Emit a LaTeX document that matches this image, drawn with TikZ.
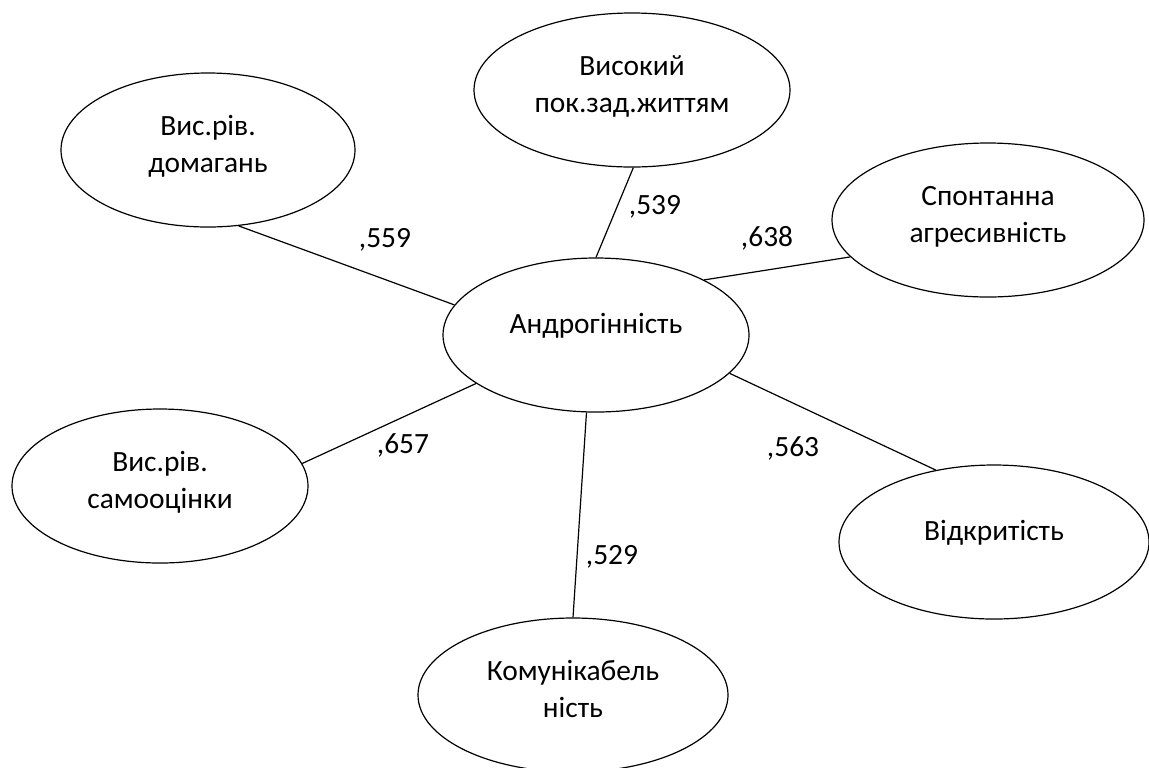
\documentclass[tikz,border=0pt]{standalone}
\usepackage{fontspec}
\setmainfont{Carlito}
\usetikzlibrary{shapes.geometric}

\begin{document}
\begin{tikzpicture}[x=0.5pt,y=-0.5pt,line width=0.6pt,
  trait node/.style={draw,ellipse,inner sep=0pt,minimum height=77pt,align=center,
    font=\fontsize{14.7}{18.5}\selectfont,text depth=6pt},
  one line/.style={text depth=12pt},
  coef/.style={font=\fontsize{14.7}{18}\selectfont,inner sep=0pt}]
  \useasboundingbox (0,0) rectangle (1149,767);
  \node[trait node,one line,minimum width=153pt] (andro) at (596,335) {Андрогінність};
  \node[trait node,minimum width=147pt] (domag) at (208,150) {Вис.рів.\\домагань};
  \node[trait node,minimum width=158pt] (zadov) at (632,90)  {Високий\\пок.зад.життям};
  \node[trait node,minimum width=156pt] (agres) at (988,220) {Спонтанна\\агресивність};
  \node[trait node,minimum width=148pt] (samoo) at (160,486) {Вис.рів.\\самооцінки};
  \node[trait node,one line,minimum width=155pt] (vidkr) at (994,542) {Відкритість};
  \node[trait node,minimum width=155pt] (komun) at (573,695) {Комунікабель\\ність};
  \node[coef] (c1) at (385,240) {,559};
  \node[coef] (c2) at (655,207) {,539};
  \node[coef] (c3) at (767,238) {,638};
  \node[coef] (c4) at (403,445) {,657};
  \node[coef] (c5) at (793,448) {,563};
  \node[coef] (c6) at (612,557) {,529};
  \draw (domag.-68) -- (andro.168);
  \draw (zadov.-89) -- (andro.90);
  \draw (agres.195) -- (andro.27);
  \draw (samoo.9)   -- (andro.202);
  \draw (vidkr.129) -- (andro.-16);
  \draw (komun.90)  -- (andro.-97);
\end{tikzpicture}
\end{document}
